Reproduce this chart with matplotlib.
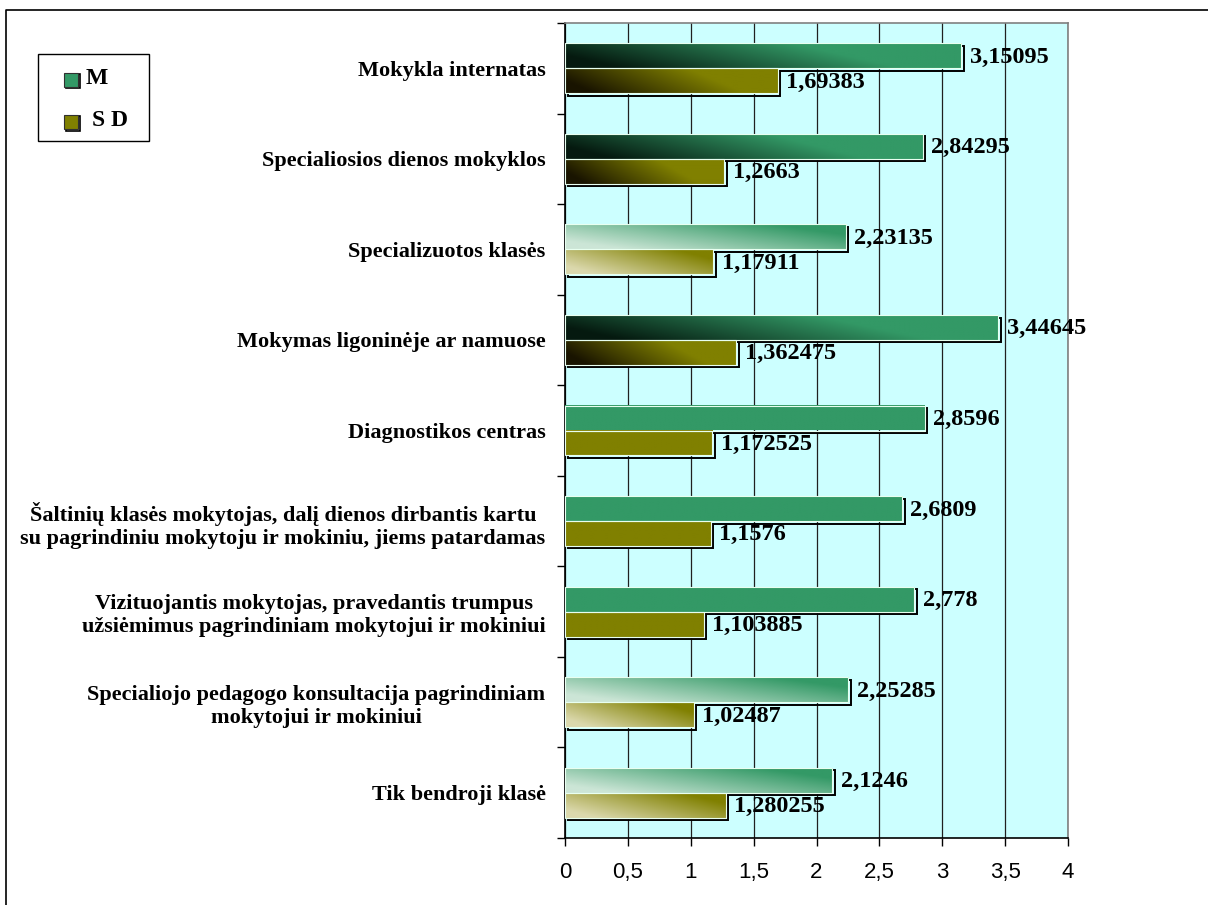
import numpy as np
import matplotlib
matplotlib.use("Agg")
import matplotlib.pyplot as plt
import matplotlib.transforms as mtransforms
from matplotlib.patches import Rectangle
from matplotlib.lines import Line2D

categories = [
    "Mokykla internatas",
    "Specialiosios dienos mokyklos",
    "Specializuotos klasės",
    "Mokymas ligoninėje ar namuose",
    "Diagnostikos centras",
    "Šaltinių klasės mokytojas, dalį dienos dirbantis kartu\nsu pagrindiniu mokytoju ir mokiniu, jiems patardamas",
    "Vizituojantis mokytojas, pravedantis trumpus\nužsiėmimus pagrindiniam mokytojui ir mokiniui",
    "Specialiojo pedagogo konsultacija pagrindiniam\nmokytojui ir mokiniui",
    "Tik bendroji klasė",
]
m_values = [3.15095, 2.84295, 2.23135, 3.44645, 2.8596, 2.6809, 2.778, 2.25285, 2.1246]
sd_values = [1.69383, 1.2663, 1.17911, 1.362475, 1.172525, 1.1576, 1.103885, 1.02487, 1.280255]
m_labels = ["3,15095", "2,84295", "2,23135", "3,44645", "2,8596", "2,6809", "2,778", "2,25285", "2,1246"]
sd_labels = ["1,69383", "1,2663", "1,17911", "1,362475", "1,172525", "1,1576", "1,103885", "1,02487", "1,280255"]
# fill style of each category: dark gradient, light gradient or plain
fill_styles = ["dark", "dark", "light", "dark", "solid", "solid", "solid", "light", "light"]
x_ticks = [0, 0.5, 1, 1.5, 2, 2.5, 3, 3.5, 4]
x_ticklabels = ["0", "0,5", "1", "1,5", "2", "2,5", "3", "3,5", "4"]
legend_labels = ["M", "S D"]

M_COLOR = np.array([0x33, 0x99, 0x66]) / 255
SD_COLOR = np.array([0x80, 0x80, 0x00]) / 255
DARK = {"M": np.array([0.02, 0.10, 0.06]), "SD": np.array([0.10, 0.08, 0.0])}
LIGHT = {"M": np.array([0.80, 0.90, 0.84]), "SD": np.array([0.86, 0.85, 0.68])}
SERIF = "Liberation Serif"
SANS = "Liberation Sans"
W, H = 1208, 905


def bar_image(kind, style):
    base = M_COLOR if kind == "M" else SD_COLOR
    nx, ny = 80, 12
    xf = np.linspace(0, 1, nx)[None, :]
    yf = np.linspace(0, 1, ny)[:, None]
    if style == "dark":
        t = np.clip(xf * 1.4 + (yf - 0.5) * 0.35, 0, 1)
        start = DARK[kind]
    elif style == "light":
        t = np.clip(xf * 0.85 + (yf - 0.3) * 0.5, 0, 1)
        start = LIGHT[kind]
    else:
        t = np.ones((ny, nx))
        start = base
    return start[None, None, :] * (1 - t[..., None]) + base[None, None, :] * t[..., None]


def fx(px):
    return px / W


def fy(py):
    return 1 - py / H


fig = plt.figure(figsize=(W / 100, H / 100), dpi=100)
ax = fig.add_axes([fx(565), fy(838), (1068 - 565) / W, (838 - 23) / H])
ax.set_facecolor("#ccffff")

n = len(categories)
pos = np.arange(n)[::-1]
h = 0.275
shadow_tr = mtransforms.offset_copy(ax.transData, fig=fig, x=2.5, y=-2.5, units="dots")

for i in range(n):
    for kind, vals, labs, yc in (("M", m_values, m_labels, pos[i] + h / 2),
                                 ("SD", sd_values, sd_labels, pos[i] - h / 2)):
        v = vals[i]
        y0, y1 = yc - h / 2, yc + h / 2
        ax.add_patch(Rectangle((0, y0), v, h, facecolor="none", edgecolor="black",
                               lw=1.4, transform=shadow_tr, zorder=2))
        ax.imshow(bar_image(kind, fill_styles[i]), extent=(0, v, y0, y1), origin="lower",
                  aspect="auto", interpolation="bilinear", zorder=3)
        ax.add_patch(Rectangle((0, y0), v, h, facecolor="none", edgecolor="#e8fff0",
                               lw=0.8, zorder=4))
        ax.annotate(labs[i], (v, yc), xytext=(6, -1), textcoords="offset points",
                    va="center", ha="left", fontsize=17.5, fontweight="bold",
                    family=SERIF, zorder=5)

ax.set_xlim(0, 4)
ax.set_ylim(-0.5, n - 0.5)

ax.set_xticks(x_ticks)
ax.set_xticklabels(x_ticklabels, family=SANS, fontsize=16)
ax.tick_params(axis="x", direction="out", length=5.5, width=1, pad=12)
ax.xaxis.grid(True, color="#202020", lw=0.9, zorder=0.5)
ax.set_axisbelow(True)

ax.set_yticks(np.arange(n + 1) - 0.5)
ax.set_yticklabels([])
ax.set_yticks(pos, minor=True)
ax.set_yticklabels(categories, minor=True, family=SERIF, fontweight="bold",
                   fontsize=16, multialignment="center")
ax.tick_params(axis="y", which="major", direction="out", length=6, width=1)
ax.tick_params(axis="y", which="minor", length=0, pad=14)

for side in ("top", "right"):
    ax.spines[side].set_color("#808080")
    ax.spines[side].set_linewidth(1.2)
for side in ("left", "bottom"):
    ax.spines[side].set_color("black")
    ax.spines[side].set_linewidth(1.2)

# legend box drawn by hand to match the original placement
fig.add_artist(Rectangle((fx(38), fy(141)), fx(149) - fx(38), fy(54) - fy(141),
                         facecolor="white", edgecolor="black", lw=1,
                         transform=fig.transFigure))
for color, label, yc, tx in ((M_COLOR, legend_labels[0], 79, 86),
                             (SD_COLOR, legend_labels[1], 121, 92)):
    fig.add_artist(Rectangle((fx(66), fy(yc + 8) - 1.5 / H), 14 / W, 14 / H,
                             facecolor="none", edgecolor="black", lw=1.2,
                             transform=fig.transFigure))
    fig.add_artist(Rectangle((fx(64), fy(yc + 8)), 14 / W, 14 / H,
                             facecolor=color, edgecolor="#303030", lw=0.8,
                             transform=fig.transFigure))
    fig.text(fx(tx), fy(yc), label, family=SERIF, fontweight="bold", fontsize=17,
             va="center", ha="left")

# outer chart border (top and left edges are visible)
fig.add_artist(Line2D([fx(6), fx(6), 1], [0, fy(10), fy(10)],
                      color="black", lw=1.2, transform=fig.transFigure))

fig.savefig("out.png", dpi=100)
